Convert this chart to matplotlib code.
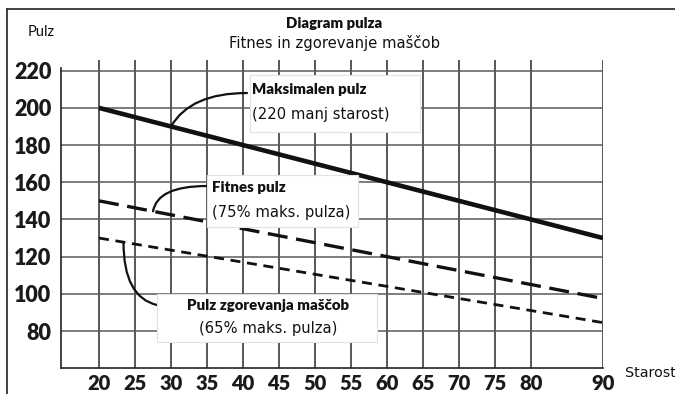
import matplotlib
matplotlib.use("Agg")
import matplotlib.pyplot as plt
from matplotlib.lines import Line2D
from matplotlib.patches import Rectangle
import numpy as np

# Heart-rate zones by age
ages = [20, 25, 30, 35, 40, 45, 50, 55, 60, 65, 70, 75, 80, 85, 90]
max_pulse = [200, 195, 190, 185, 180, 175, 170, 165, 160, 155, 150, 145, 140, 135, 130]
fitness_pulse = [150, 146.25, 142.5, 138.75, 135, 131.25, 127.5, 123.75,
                 120, 116.25, 112.5, 108.75, 105, 101.25, 97.5]
fat_burn_pulse = [130, 126.75, 123.5, 120.25, 117, 113.75, 110.5, 107.25,
                  104, 100.75, 97.5, 94.25, 91, 87.75, 84.5]

x_ticks = [20, 25, 30, 35, 40, 45, 50, 55, 60, 65, 70, 75, 80, 90]
y_ticks = [80, 100, 120, 140, 160, 180, 200, 220]
v_grid = [20, 25, 30, 35, 40, 45, 50, 55, 60, 65, 70, 75, 80, 90]

W, H = 675, 394
HEAD = ["Lato", "DejaVu Sans"]
BOOK = ["DejaVu Sans"]


def fx(px):
    return px / W


def fy(py):
    return 1 - py / H


fig = plt.figure(figsize=(W / 100, H / 100), dpi=100, facecolor="white")
ax = fig.add_axes([fx(61), fy(368.2), fx(603) - fx(61), fy(60) - fy(368.2)])
ax.set_xlim(14.72, 90)
ax.set_ylim(60, 225.75)

# grid drawn by hand so vertical and horizontal lines can differ
for x in v_grid:
    ax.axvline(x, color="#2a2a2a", lw=1.1, zorder=1)
for y in y_ticks:
    ax.axhline(y, color="#5a5a5a", lw=1.1, zorder=1)

ax.plot(ages, max_pulse, color="#111111", lw=3.3, solid_capstyle="butt", zorder=3)
ax.plot(ages, fitness_pulse, color="#111111", lw=2.4, dashes=(6, 2.6), zorder=3)
ax.plot(ages, fat_burn_pulse, color="#111111", lw=2.0, dashes=(3.6, 2.4), zorder=3)

for side in ("top", "right"):
    ax.spines[side].set_visible(False)
ax.spines["left"].set_bounds(60, 221.5)
for side in ("left", "bottom"):
    ax.spines[side].set_color("#222222")
    ax.spines[side].set_linewidth(1.2)

ax.set_xticks(x_ticks)
ax.set_yticks(y_ticks)
ax.tick_params(length=0)
ax.tick_params(axis="x", pad=4)
ax.tick_params(axis="y", pad=7)
for lab in ax.get_xticklabels():
    lab.set_fontfamily(HEAD)
    lab.set_fontweight("heavy")
    lab.set_fontsize(14.5)
    lab.set_color("#1a1a1a")
for lab in ax.get_yticklabels():
    lab.set_fontfamily(HEAD)
    lab.set_fontweight("heavy")
    lab.set_fontsize(15.5)
    lab.set_color("#1a1a1a")

# outer frame: top and left rules only
fig.add_artist(Line2D([fx(7), fx(675)], [fy(9), fy(9)], color="#333333", lw=1.3))
fig.add_artist(Line2D([fx(7), fx(7)], [fy(9), fy(394)], color="#333333", lw=1.3))

fig.text(fx(334.5), fy(24), "Diagram pulza", family=HEAD, weight="heavy",
         fontsize=10.7, ha="center", va="center", color="#111111")
fig.text(fx(334.5), fy(43), "Fitnes in zgorevanje maščob", family=BOOK,
         fontsize=10.6, ha="center", va="center", color="#111111")
fig.text(fx(41), fy(32), "Pulz", family=HEAD, fontsize=10.5,
         ha="center", va="center", color="#111111")
fig.text(fx(625), fy(373), "Starost", family=BOOK, fontsize=10.3,
         ha="left", va="center", color="#111111")

# label boxes sit above the grid and lines
boxes = [
    (250, 75, 420, 132),
    (207, 175, 358, 227),
    (157, 294, 377, 342),
]
for x0, y0, x1, y1 in boxes:
    fig.add_artist(Rectangle((fx(x0), fy(y1)), fx(x1) - fx(x0), fy(y0) - fy(y1),
                             facecolor="white", edgecolor="#e2e2e2", lw=0.8,
                             zorder=5))

label_kw = dict(color="#111111", va="center", zorder=6)
fig.text(fx(252), fy(90), "Maksimalen pulz", family=HEAD, weight="heavy",
         fontsize=10.8, ha="left", **label_kw)
fig.text(fx(252), fy(114), "(220 manj starost)", family=BOOK, fontsize=10.6,
         ha="left", **label_kw)
fig.text(fx(212), fy(188), "Fitnes pulz", family=HEAD, weight="heavy",
         fontsize=10.8, ha="left", **label_kw)
fig.text(fx(212), fy(213), "(75% maks. pulza)", family=BOOK, fontsize=10.6,
         ha="left", **label_kw)
fig.text(fx(268), fy(305), "Pulz zgorevanja maščob", family=HEAD, weight="heavy",
         fontsize=10.8, ha="center", **label_kw)
fig.text(fx(268), fy(329), "(65% maks. pulza)", family=BOOK, fontsize=10.6,
         ha="center", **label_kw)

# curved leader lines from each box to its series
leaders = [
    (30.0, max_pulse, (247, 93), "angle3,angleA=0,angleB=60"),
    (27.5, fitness_pulse, (207, 186), "angle3,angleA=0,angleB=80"),
    (23.4, fat_burn_pulse, (157, 305), "angle3,angleA=-13,angleB=90"),
]
for age, series, (px, py), style in leaders:
    ax.annotate("", xy=(age, np.interp(age, ages, series)), xycoords="data",
                xytext=(px, H - py), textcoords="figure pixels",
                arrowprops=dict(arrowstyle="-", connectionstyle=style,
                                color="#111111", lw=1.6,
                                shrinkA=0, shrinkB=0),
                zorder=4)

fig.savefig("out.png", dpi=100, facecolor="white")
